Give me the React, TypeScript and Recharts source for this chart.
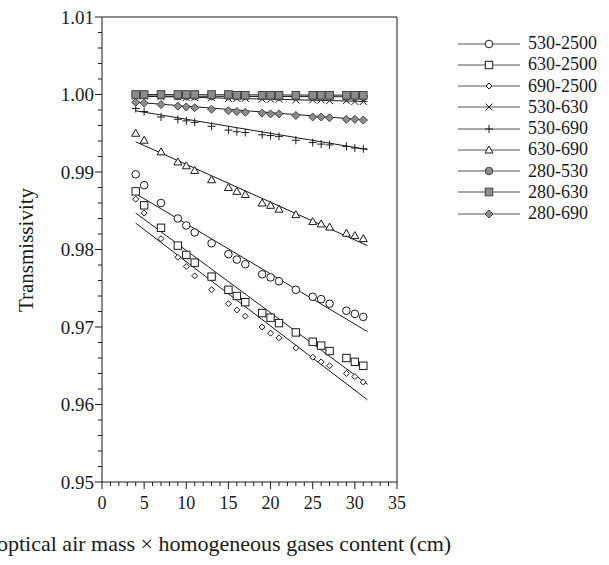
import React from "react"
import { ScatterChart, Scatter, XAxis, YAxis, ReferenceLine } from "recharts"

// x positions shared by every series (optical air mass × gases content, cm)
const xValues = [4, 5, 7, 9, 10, 11, 13, 15, 16, 17, 19, 20, 21, 23, 25, 26, 27, 29, 30, 31]
const fitX = [4, 31.5]

const s530_2500 = [0.9897, 0.9883, 0.986, 0.984, 0.9831, 0.9822, 0.9808, 0.9794, 0.9787, 0.9781, 0.9768, 0.9764, 0.9759, 0.9748, 0.9739, 0.9736, 0.973, 0.9721, 0.9717, 0.9713]
const s630_2500 = [0.9875, 0.9857, 0.9828, 0.9805, 0.9793, 0.9783, 0.9765, 0.9748, 0.974, 0.9732, 0.9718, 0.9712, 0.9705, 0.9693, 0.9681, 0.9676, 0.9669, 0.966, 0.9655, 0.965]
const s690_2500 = [0.9865, 0.9847, 0.9814, 0.979, 0.9778, 0.9766, 0.9748, 0.973, 0.9722, 0.9714, 0.97, 0.9692, 0.9686, 0.9673, 0.9661, 0.9655, 0.965, 0.964, 0.9636, 0.9629]
const s530_630 = [0.9998, 0.9998, 0.9997, 0.9997, 0.9996, 0.9996, 0.9996, 0.9995, 0.9995, 0.9995, 0.9994, 0.9994, 0.9994, 0.9993, 0.9993, 0.9993, 0.9992, 0.9992, 0.9991, 0.9991]
const s530_690 = [0.9982, 0.9978, 0.9971, 0.9968, 0.9966, 0.9964, 0.9959, 0.9954, 0.9952, 0.9951, 0.9948, 0.9947, 0.9946, 0.9941, 0.9938, 0.9936, 0.9935, 0.9933, 0.9931, 0.993]
const s630_690 = [0.995, 0.9941, 0.9926, 0.9913, 0.9908, 0.9902, 0.989, 0.988, 0.9875, 0.9871, 0.986, 0.9857, 0.9852, 0.9845, 0.9836, 0.9833, 0.9829, 0.9821, 0.9818, 0.9814]
const s280_530 = [0.9999, 0.9999, 0.9999, 0.9998, 0.9998, 0.9998, 0.9998, 0.9998, 0.9998, 0.9998, 0.9998, 0.9998, 0.9997, 0.9997, 0.9997, 0.9997, 0.9997, 0.9997, 0.9997, 0.9997]
const s280_630 = [1.0, 1.0, 1.0, 1.0, 1.0, 1.0, 1.0, 1.0, 0.9999, 0.9999, 0.9999, 0.9999, 0.9999, 0.9999, 0.9999, 0.9999, 0.9999, 0.9999, 0.9999, 0.9999]
const s280_690 = [0.999, 0.9989, 0.9987, 0.9985, 0.9984, 0.9983, 0.9981, 0.9979, 0.9978, 0.9977, 0.9976, 0.9975, 0.9975, 0.9973, 0.9971, 0.9971, 0.997, 0.9968, 0.9968, 0.9967]

// fitted straight lines (value at fitX[0], value at fitX[1])
const fit530_2500 = [0.9872, 0.9694]
const fit630_2500 = [0.9847, 0.9626]
const fit690_2500 = [0.9834, 0.9606]
const fit530_630 = [0.9998, 0.9991]
const fit530_690 = [0.9979, 0.9929]
const fit630_690 = [0.9939, 0.9805]
const fit280_530 = [0.9998, 0.9997]
const fit280_630 = [1.0, 0.9999]
const fit280_690 = [0.999, 0.9967]

const xTicks = [0, 1, 2, 3, 4, 5, 6, 7, 8, 9, 10, 11, 12, 13, 14, 15, 16, 17, 18, 19, 20, 21, 22, 23, 24, 25, 26, 27, 28, 29, 30, 31, 32, 33, 34, 35]
const yTicks = [0.95, 0.952, 0.954, 0.956, 0.958, 0.96, 0.962, 0.964, 0.966, 0.968, 0.97, 0.972, 0.974, 0.976, 0.978, 0.98, 0.982, 0.984, 0.986, 0.988, 0.99, 0.992, 0.994, 0.996, 0.998, 1.0, 1.002, 1.004, 1.006, 1.008, 1.01]

const INK = "#1a1a1a"
const GRAY = "#8c8c8c"
const FONT = "'Liberation Serif', 'DejaVu Serif', serif"

type MarkerKind = "circle" | "square" | "smallDiamond" | "cross" | "plus" | "triangle" | "grayCircle" | "graySquare" | "grayDiamond"

function Marker({ kind, cx, cy }: { kind: MarkerKind; cx: number; cy: number }) {
  switch (kind) {
    case "circle":
      return <circle cx={cx} cy={cy} r={3.8} fill="#fff" stroke={INK} strokeWidth={1} />
    case "square":
      return <rect x={cx - 3.7} y={cy - 3.7} width={7.4} height={7.4} fill="#fff" stroke={INK} strokeWidth={1} />
    case "smallDiamond":
      return <path d={`M${cx},${cy - 3} L${cx + 3},${cy} L${cx},${cy + 3} L${cx - 3},${cy} Z`} fill="#fff" stroke={INK} strokeWidth={1} />
    case "cross":
      return <path d={`M${cx - 3.5},${cy - 3.5} L${cx + 3.5},${cy + 3.5} M${cx - 3.5},${cy + 3.5} L${cx + 3.5},${cy - 3.5}`} stroke={INK} strokeWidth={1} />
    case "plus":
      return <path d={`M${cx - 4},${cy} L${cx + 4},${cy} M${cx},${cy - 4} L${cx},${cy + 4}`} stroke={INK} strokeWidth={1} />
    case "triangle":
      return <path d={`M${cx},${cy - 4} L${cx + 4},${cy + 3} L${cx - 4},${cy + 3} Z`} fill="#fff" stroke={INK} strokeWidth={1} />
    case "grayCircle":
      return <circle cx={cx} cy={cy} r={3.8} fill={GRAY} stroke="#444" strokeWidth={1} />
    case "graySquare":
      return <rect x={cx - 3.8} y={cy - 3.8} width={7.6} height={7.6} fill={GRAY} stroke="#444" strokeWidth={1} />
    case "grayDiamond":
      return <path d={`M${cx},${cy - 4} L${cx + 4},${cy} L${cx},${cy + 4} L${cx - 4},${cy} Z`} fill={GRAY} stroke="#444" strokeWidth={1} />
  }
}

const seriesList: { name: string; values: number[]; fit: number[]; kind: MarkerKind }[] = [
  { name: "530-2500", values: s530_2500, fit: fit530_2500, kind: "circle" },
  { name: "630-2500", values: s630_2500, fit: fit630_2500, kind: "square" },
  { name: "690-2500", values: s690_2500, fit: fit690_2500, kind: "smallDiamond" },
  { name: "530-630", values: s530_630, fit: fit530_630, kind: "cross" },
  { name: "530-690", values: s530_690, fit: fit530_690, kind: "plus" },
  { name: "630-690", values: s630_690, fit: fit630_690, kind: "triangle" },
  { name: "280-530", values: s280_530, fit: fit280_530, kind: "grayCircle" },
  { name: "280-630", values: s280_630, fit: fit280_630, kind: "graySquare" },
  { name: "280-690", values: s280_690, fit: fit280_690, kind: "grayDiamond" },
]

const isMajorY = (v: number) => Math.abs(v * 100 - Math.round(v * 100)) < 1e-6

const YTick = (props: any) => {
  const { x, y, payload } = props
  const major = isMajorY(payload.value)
  return (
    <g>
      <line x1={x} x2={x - (major ? 7 : 4)} y1={y} y2={y} stroke={INK} strokeWidth={1} />
      {major && (
        <text x={x - 8} y={y} dy="0.35em" textAnchor="end" fontFamily={FONT} fontSize={19} fill={INK}>
          {payload.value.toFixed(2)}
        </text>
      )}
    </g>
  )
}

const XTick = (props: any) => {
  const { x, y, payload } = props
  const major = payload.value % 5 === 0
  return (
    <g>
      <line x1={x} x2={x} y1={y} y2={y + (major ? 7 : 4)} stroke={INK} strokeWidth={1} />
      {major && (
        <text x={x} y={y + 27} textAnchor="middle" fontFamily={FONT} fontSize={18} fill={INK}>
          {payload.value}
        </text>
      )}
    </g>
  )
}

const ChartLegend = () => (
  <div style={{ position: "absolute", left: 458, top: 33, fontFamily: FONT, fontSize: 18, color: INK, lineHeight: "21.25px" }}>
    {seriesList.map((s) => (
      <div key={s.name} style={{ display: "flex", alignItems: "center", height: 21.25 }}>
        <svg width={66} height={14} style={{ marginRight: 4 }}>
          <line x1={0} x2={62} y1={7} y2={7} stroke="#555" strokeWidth={1} />
          <Marker kind={s.kind} cx={31} cy={7} />
        </svg>
        <span>{s.name}</span>
      </div>
    ))}
  </div>
)

export default function App() {
  return (
    <div style={{ position: "absolute", left: 0, top: 0, width: 609, height: 565, background: "#fff", overflow: "hidden" }}>
      <ScatterChart width={609} height={565} margin={{ top: 17, right: 212, left: 40, bottom: 53 }}>
        <XAxis
          type="number"
          dataKey="x"
          domain={[0, 35]}
          ticks={xTicks}
          interval={0}
          tick={<XTick />}
          tickLine={false}
          tickSize={0}
          tickMargin={0}
          height={30}
          axisLine={{ stroke: INK }}
          allowDataOverflow
        />
        <YAxis
          type="number"
          dataKey="y"
          domain={[0.95, 1.01]}
          ticks={yTicks}
          interval={0}
          tick={<YTick />}
          tickLine={false}
          tickSize={0}
          tickMargin={0}
          width={62}
          axisLine={{ stroke: INK }}
          allowDataOverflow
        />
        <ReferenceLine y={1.01} stroke={INK} strokeWidth={1} />
        <ReferenceLine x={35} stroke={INK} strokeWidth={1} />
        {seriesList.map((s) => (
          <Scatter
            key={"fit" + s.name}
            data={fitX.map((x, i) => ({ x, y: s.fit[i] }))}
            line={{ stroke: INK, strokeWidth: 1 }}
            shape={() => <g />}
            isAnimationActive={false}
            legendType="none"
          />
        ))}
        {seriesList.map((s) => (
          <Scatter
            key={s.name}
            name={s.name}
            data={xValues.map((x, i) => ({ x, y: s.values[i] }))}
            shape={(p: any) => <Marker kind={s.kind} cx={p.cx} cy={p.cy} />}
            isAnimationActive={false}
          />
        ))}
      </ScatterChart>
      <ChartLegend />
      <div
        style={{
          position: "absolute",
          left: 26,
          top: 250,
          transform: "translate(-50%, -50%) rotate(-90deg)",
          fontFamily: FONT,
          fontSize: 21,
          color: INK,
          whiteSpace: "nowrap",
        }}
      >
        Transmissivity
      </div>
      <div
        style={{
          position: "absolute",
          left: -3,
          top: 531,
          fontFamily: FONT,
          fontSize: 22,
          color: INK,
          whiteSpace: "nowrap",
        }}
      >
        optical air mass × homogeneous gases content (cm)
      </div>
    </div>
  )
}
